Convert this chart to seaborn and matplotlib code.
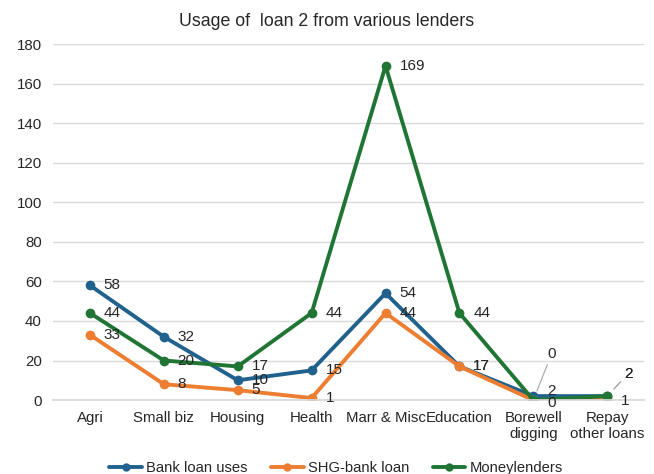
import matplotlib
matplotlib.use("Agg")
import matplotlib.pyplot as plt
import seaborn as sns
import pandas as pd

categories = ["Agri", "Small biz", "Housing", "Health", "Marr & Misc",
              "Education", "Borewell\ndigging", "Repay\nother loans"]
bank_loan = [58, 32, 10, 15, 54, 17, 2, 2]
shg_bank = [33, 8, 5, 1, 44, 17, 0, 1]
moneylenders = [44, 20, 17, 44, 169, 44, 0, 2]
series_names = ["Bank loan uses", "SHG-bank loan", "Moneylenders"]
series_values = [bank_loan, shg_bank, moneylenders]
colors = ["#20618D", "#ED7D31", "#207535"]
y_ticks = [0, 20, 40, 60, 80, 100, 120, 140, 160, 180]

rows = []
for name, vals in zip(series_names, series_values):
    for i, v in enumerate(vals):
        rows.append({"pos": i, "value": v, "series": name})
df = pd.DataFrame(rows)

sns.set_theme(style="white")
plt.rcParams["font.family"] = ["Liberation Sans", "DejaVu Sans"]

fig = plt.figure(figsize=(6.54, 4.74), dpi=100)
ax = fig.add_axes([0.081, 0.156, 0.904, 0.751])

sns.lineplot(data=df, x="pos", y="value", hue="series", hue_order=series_names,
             palette=colors, marker="o", markersize=7, markeredgewidth=0,
             linewidth=2.8, sort=False, ax=ax, legend=True)

ax.set_xlim(-0.5, len(categories) - 0.5)
ax.set_ylim(0, 180)
ax.set_yticks(y_ticks)
ax.set_xticks(range(len(categories)))
ax.set_xticklabels(categories)
ax.tick_params(axis="both", labelsize=10.8, colors="#262626", length=0, pad=8)
ax.tick_params(axis="y", pad=8)
ax.grid(axis="y", color="#D9D9D9", linewidth=1)
ax.set_axisbelow(True)
for s in ["top", "right", "left"]:
    ax.spines[s].set_visible(False)
ax.spines["bottom"].set_color("#D9D9D9")
ax.set_xlabel("")
ax.set_ylabel("")
fig.text(0.5, 0.954, "Usage of  loan 2 from various lenders", fontsize=12.8,
         color="#262626", ha="center", va="center")

# value labels, drawn to the right of each point
label_kw = dict(textcoords="offset points", fontsize=11, color="#262626", va="center")
for si, vals in enumerate(series_values):
    for i, v in enumerate(vals):
        if i == 6 and si == 2:
            ax.annotate(str(v), xy=(i, v), xytext=(10, 33), ha="left",
                        arrowprops=dict(arrowstyle="-", color="#A6A6A6", lw=0.8,
                                        shrinkA=0, shrinkB=7), **label_kw)
        elif i == 7 and si in (0, 2):
            ax.annotate(str(v), xy=(i, v), xytext=(12, 16), ha="left",
                        arrowprops=dict(arrowstyle="-", color="#A6A6A6", lw=0.8,
                                        shrinkA=0, shrinkB=7), **label_kw)
        else:
            dy = 0
            if i == 6 and si == 0:
                dy = 4
            elif i == 6 and si == 1:
                dy = -2
            elif i == 7 and si == 1:
                dy = -2
            ax.annotate(str(v), xy=(i, v), xytext=(10, dy), ha="left", **label_kw)

handles, labels = ax.get_legend_handles_labels()
for h in handles:
    h.set_markersize(6)
ax.legend(handles, labels, loc="center", bbox_to_anchor=(0.514, 0.013),
          bbox_transform=fig.transFigure, ncol=3,
          frameon=False, fontsize=10.6, handlelength=2.2, columnspacing=1.6,
          handletextpad=0.3, labelcolor="#262626", borderpad=0)

fig.savefig("out.png", dpi=100)
